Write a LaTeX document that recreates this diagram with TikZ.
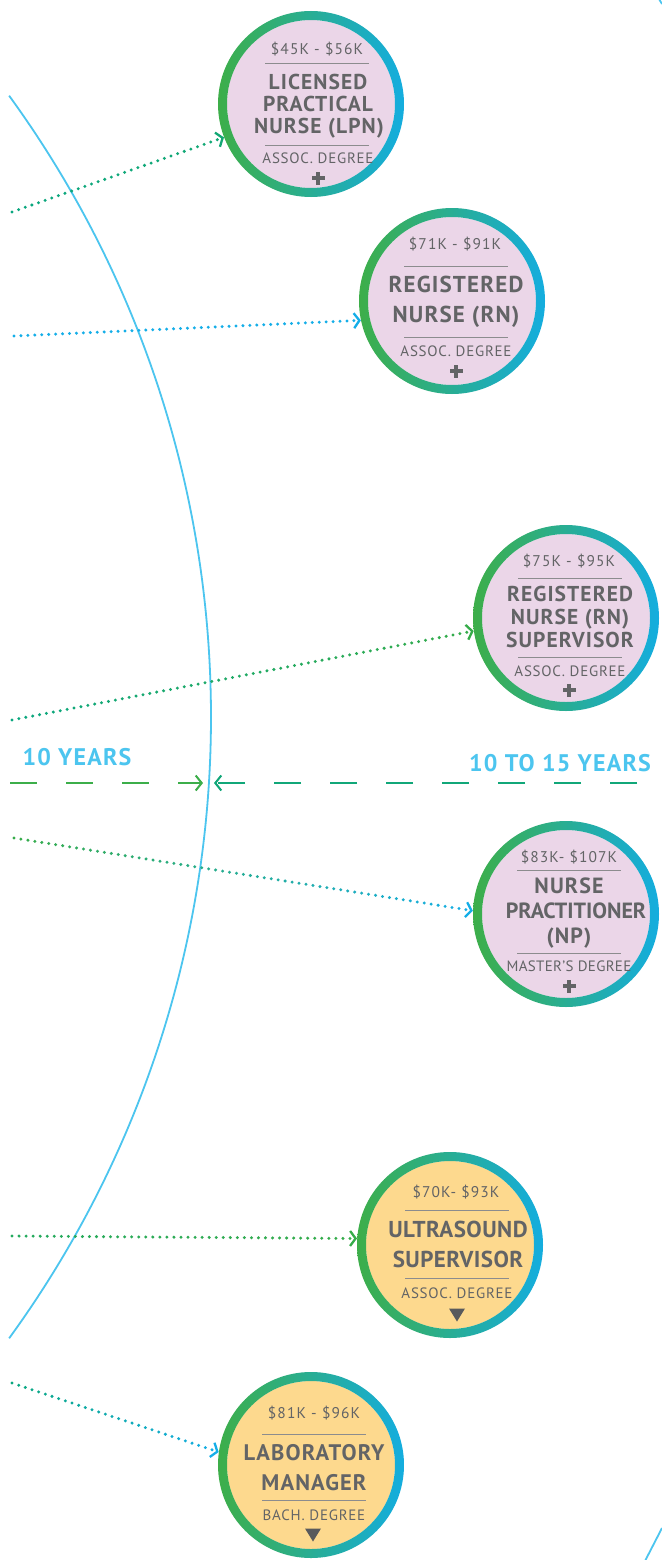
\documentclass[tikz,border=0pt]{standalone}
\usepackage{fontspec}
\setmainfont{PT Sans}
\newfontfamily\titlefont{PT Sans}[LetterSpace=5]
\newfontfamily\smallfont{PT Sans}[LetterSpace=5]
\newfontfamily\salfont{PT Sans}[LetterSpace=7]
\usetikzlibrary{arrows.meta,calc}

\definecolor{ringgreen}{HTML}{3DAE49}
\definecolor{ringteal}{HTML}{00A878}
\definecolor{ringblue}{HTML}{14ADDF}
\definecolor{pinkfill}{HTML}{EBD6E8}
\definecolor{orangefill}{HTML}{FDD98E}
\definecolor{txtgray}{HTML}{636466}
\definecolor{rulegray}{HTML}{8C8C8E}
\definecolor{arcblue}{HTML}{4CC5EF}
\definecolor{dotteal}{HTML}{0AA77F}
\definecolor{dotgreen}{HTML}{35AC49}
\definecolor{dotblue}{HTML}{14AEE8}
\definecolor{dashgreen}{HTML}{3CAE4A}
\definecolor{dashteal}{HTML}{11A779}

\tikzset{
  careercircle/.style={circle, minimum size=186pt, inner sep=0pt, draw=none},
  saltext/.style={font=\salfont\fontsize{15.5}{15.5}\selectfont, text=txtgray, inner sep=0pt, text height=10.8pt, text depth=0pt},
  degtext/.style={font=\smallfont\fontsize{15}{15}\selectfont, text=txtgray, inner sep=0pt, text height=10.5pt, text depth=0pt},
  titletext/.style={font=\titlefont\bfseries\fontsize{#1}{#1}\selectfont, text=txtgray, inner sep=0pt, text height=0.7*#1pt, text depth=0pt},
  yearlabel/.style={font=\titlefont\bfseries\fontsize{24}{24}\selectfont, text=arcblue, inner sep=0pt, text height=16.8pt, text depth=0pt},
  innerrule/.style={draw=rulegray, line width=1pt},
  yeardash/.style={line width=2pt, dash pattern=on 27pt off 29pt, -{Straight Barb[length=6pt,width=15pt]}},
}

% name, x, y, fill colour
\newcommand\careernode[4]{%
  \node[careercircle] (#1) at (#2,#3) {};
  \fill[#4] (#1.center) circle[radius=84pt];
  \shade[even odd rule, left color=ringgreen, middle color=ringteal, right color=ringblue]
    (#1.center) circle[radius=93pt] circle[radius=84pt];
}
% size, name, x, y (cap centre), text
\newcommand\tline[5]{\node[titletext=#1] (#2) at (#3,#4) {#5};}
% rule centred at x, y
\newcommand\irule[2]{\draw[innerrule] ($(#1-52,#2)$) -- ($(#1+52,#2)$);}
% plus sign at x,y
\newcommand\plussign[2]{%
  \fill[txtgray] ($(#1-6.5,#2-2.2)$) rectangle ($(#1+6.5,#2+2.2)$);
  \fill[txtgray] ($(#1-2.2,#2-6.5)$) rectangle ($(#1+2.2,#2+6.5)$);}
\newcommand\downtri[2]{%
  \fill[txtgray!90!black] ($(#1-8,#2-6.5)$) -- ($(#1+8,#2-6.5)$) -- ($(#1,#2+6.5)$) -- cycle;}
% dotted connector: from, to, start colour, end colour
\makeatletter
\newcommand\dotconn[4]{%
  \path (#1) coordinate (dcA) (#2) coordinate (dcB);
  \pgfpointdiff{\pgfpointanchor{dcA}{center}}{\pgfpointanchor{dcB}{center}}%
  \pgfmathveclen{\pgf@x}{\pgf@y}%
  \pgfmathtruncatemacro\ndots{round(\pgfmathresult/7)}%
  \pgfmathtruncatemacro\nlast{\ndots-1}%
  \foreach \k in {0,...,\nlast}{%
    \pgfmathtruncatemacro\pc{100*\k/\ndots}%
    \pgfmathsetmacro\frac{\k/\ndots}%
    \fill[#4!\pc!#3] ($(dcA)!\frac!(dcB)$) circle[radius=1.65pt];
  }
  \draw[#4, line width=2.3pt, dash pattern=on 0pt off 5000pt, -{Straight Barb[length=5.5pt,width=15pt]}] (#1) -- (#2);
}
\makeatother

\begin{document}
\begin{tikzpicture}[x=1pt,y=-1pt]
\useasboundingbox (0,0) rectangle (661,1560);
\fill[white] (0,0) rectangle (661,1560);

% big timeline arc
\draw[arcblue, line width=1.8pt] (-846,717) ++(-36:1057) arc[start angle=-36, end angle=36, radius=1057];
\coordinate (edgeTop) at (659,-1);
\coordinate (edgeTopEnd) at (662,4);
\draw[arcblue, line width=1.8pt] (edgeTop) -- (edgeTopEnd);
\coordinate (edgeBot) at (645,1561);
\coordinate (edgeBotEnd) at (662,1528);
\draw[arcblue, line width=1.8pt] (edgeBot) -- (edgeBotEnd);

% ---------- circles ----------
\careernode{lpn}{311}{104}{pinkfill}
\node[saltext] (lpn-s) at (317,49) {\$45K - \$56K};
\irule{317}{64}
\tline{21.5}{lpn-t1}{318}{82}{LICENSED}
\tline{21.5}{lpn-t2}{318}{104}{PRACTICAL}
\tline{21.5}{lpn-t3}{319}{126}{NURSE (LPN)}
\irule{317}{145}
\node[degtext] (lpn-d) at (318,158) {ASSOC. DEGREE};
\plussign{318}{178}

\careernode{rn}{452}{301}{pinkfill}
\node[saltext] (rn-s) at (455,244) {\$71K - \$91K};
\irule{456}{266}
\tline{23}{rn-t1}{456}{284}{REGISTERED}
\tline{23}{rn-t2}{456}{314}{NURSE (RN)}
\irule{456}{337}
\node[degtext] (rn-d) at (456,351) {ASSOC. DEGREE};
\plussign{456}{371}

\careernode{rns}{566}{618}{pinkfill}
\node[saltext] (rns-s) at (569,561) {\$75K - \$95K};
\irule{570}{578}
\tline{21.5}{rns-t1}{570}{594}{REGISTERED}
\tline{21.5}{rns-t2}{570}{617}{NURSE (RN)}
\tline{21.5}{rns-t3}{570}{640}{SUPERVISOR}
\irule{570}{657}
\node[degtext] (rns-d) at (570,671) {ASSOC. DEGREE};
\plussign{569}{690}

\careernode{np}{566}{914}{pinkfill}
\node[saltext] (np-s) at (569,857) {\$83K- \$107K};
\irule{569}{870}
\tline{22}{np-t1}{569}{886}{NURSE}
\tline{22}{np-t2}{576}{911}{\addfontfeature{LetterSpace=0}PRACTITIONER}
\tline{22}{np-t3}{569}{936}{(NP)}
\irule{569}{953}
\node[degtext] (np-d) at (569,966) {\addfontfeature{LetterSpace=2}MASTER’S DEGREE};
\plussign{569}{986}

\careernode{us}{450}{1245}{orangefill}
\node[saltext] (us-s) at (456,1192) {\$70K- \$93K};
\irule{457}{1210}
\tline{23}{us-t1}{458}{1229}{\addfontfeature{LetterSpace=2}ULTRASOUND}
\tline{23}{us-t2}{458}{1259}{\addfontfeature{LetterSpace=2}SUPERVISOR}
\irule{457}{1278}
\node[degtext] (us-d) at (457,1293) {ASSOC. DEGREE};
\downtri{457}{1315}

\careernode{lab}{311}{1465}{orangefill}
\node[saltext] (lab-s) at (314,1413) {\$81K - \$96K};
\irule{314}{1434}
\tline{22.5}{lab-t1}{314}{1453}{LABORATORY}
\tline{22.5}{lab-t2}{314}{1483}{MANAGER}
\irule{314}{1500}
\node[degtext] (lab-d) at (314,1515) {BACH. DEGREE};
\downtri{313}{1535}

% ---------- dotted connectors ----------
\coordinate (s1) at (12,212);
\coordinate (s2) at (14,336);
\coordinate (s3) at (12,720);
\coordinate (s4) at (14,838);
\coordinate (s5) at (12,1236);
\coordinate (s6) at (12,1383);
\dotconn{s1}{lpn.201}{dotteal}{dotteal!80!dotgreen}
\dotconn{s2}{rn.192}{dotblue}{dotblue}
\dotconn{s3}{rns.188}{dotteal}{dotgreen}
\dotconn{s4}{np.178}{dotgreen}{dotblue}
\dotconn{s5}{us.176}{dotteal!40!dotgreen}{dotgreen}
\dotconn{s6}{lab.172}{dotteal}{dotblue}

% ---------- years divider ----------
\coordinate (yl) at (10,783);
\coordinate (ylEnd) at (203,783);
\coordinate (yr) at (637,783);
\coordinate (yrEnd) at (214,783);
\draw[yeardash, dashgreen] (yl) -- (ylEnd);
\draw[yeardash, dashteal] (yr) -- (yrEnd);
\node[yearlabel] (yl-lab) at (77,757) {10 YEARS};
\node[yearlabel] (yr-lab) at (560,763) {10 TO 15 YEARS};
\end{tikzpicture}
\end{document}
